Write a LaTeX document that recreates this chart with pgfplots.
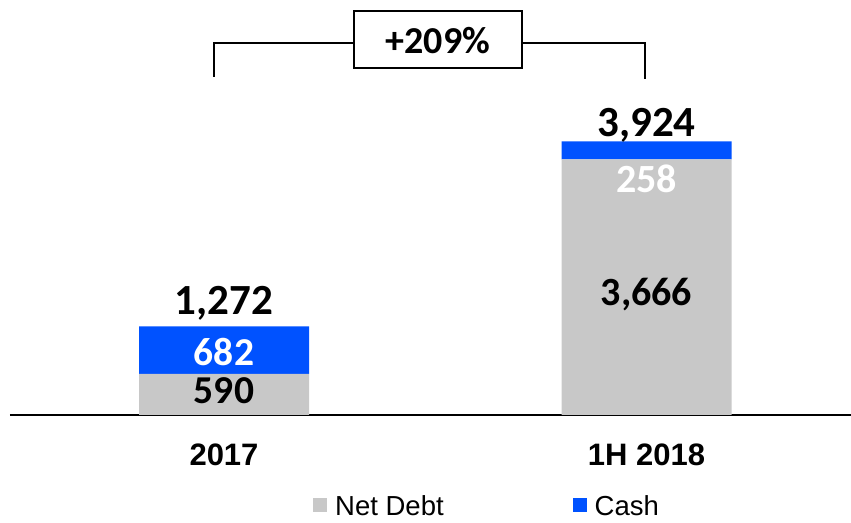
\documentclass[border=0pt]{standalone}
\usepackage{fontspec}
\setmainfont{Liberation Sans}
\newfontfamily\carlito{Carlito}
\usepackage{pgfplots}
\pgfplotsset{compat=1.18}
\definecolor{netgrey}{RGB}{200,200,200}
\definecolor{cashblue}{RGB}{0,82,255}
\begin{document}
\begin{tikzpicture}
\useasboundingbox (0,0) rectangle (851pt,522pt);
\begin{axis}[
  at={(10pt,107pt)}, anchor=south west,
  scale only axis, width=841pt, height=415pt,
  ybar stacked, bar width=170pt,
  xmin=-0.5065, xmax=1.484, ymin=0, ymax=5954,
  axis x line=bottom, axis y line=none,
  x axis line style={-, line width=2.5pt, black},
  xtick={0,1}, xticklabels={2017,1H 2018},
  major tick length=0pt,
  xticklabel style={font=\fontsize{31}{31}\selectfont\bfseries, anchor=base, yshift=-50pt},
  ytick=\empty,
  clip=false,
  legend columns=2,
  legend image code/.code={\fill[#1,draw=none] (0pt,-6pt) rectangle (14pt,8pt);},
  legend style={draw=none, fill=none, inner sep=0pt, at={(0.3603,-0.219)}, anchor=west,
    font=\fontsize{27.5}{27.5}\selectfont,
    nodes={inner sep=0pt},
    /tikz/every odd column/.append style={column sep=8pt},
    /tikz/every even column/.append style={column sep=129pt}},
]
\addplot[fill=netgrey, draw=none] coordinates {(0,590) (1,3666)};
\addlegendentry{Net Debt}
\addplot[fill=cashblue, draw=none] coordinates {(0,682) (1,258)};
\addlegendentry{Cash}
\coordinate (t0) at (axis cs:0,1435);
\coordinate (c0) at (axis cs:0,717);
\coordinate (n0) at (axis cs:0,158);
\coordinate (t1) at (axis cs:1,3989);
\coordinate (c1) at (axis cs:1,3185);
\coordinate (n1) at (axis cs:1,1564);
\end{axis}
% value labels
\node[anchor=base, font=\carlito\bfseries\fontsize{43}{43}\selectfont] at (t0) {1,272};
\node[anchor=base, font=\carlito\bfseries\fontsize{39.5}{39.5}\selectfont, text=white] at (c0) {682};
\node[anchor=base, font=\carlito\bfseries\fontsize{39.5}{39.5}\selectfont] at (n0) {590};
\node[anchor=base, font=\carlito\bfseries\fontsize{43}{43}\selectfont] at (t1) {3,924};
\node[anchor=base, font=\carlito\bfseries\fontsize{40}{40}\selectfont, text=white] at (c1) {258};
\node[anchor=base, font=\carlito\bfseries\fontsize{40}{40}\selectfont] at (n1) {3,666};
% growth bracket
\draw[line width=2pt] (214pt,445pt) -- (214pt,479pt) -- (354pt,479pt);
\draw[line width=2pt] (522pt,479pt) -- (645pt,479pt) -- (645pt,443pt);
\draw[line width=2pt] (354pt,454pt) rectangle (522pt,511pt);
\node[font=\carlito\bfseries\fontsize{38}{38}\selectfont] at (438pt,481pt) {+209\%};
\end{tikzpicture}
\end{document}
